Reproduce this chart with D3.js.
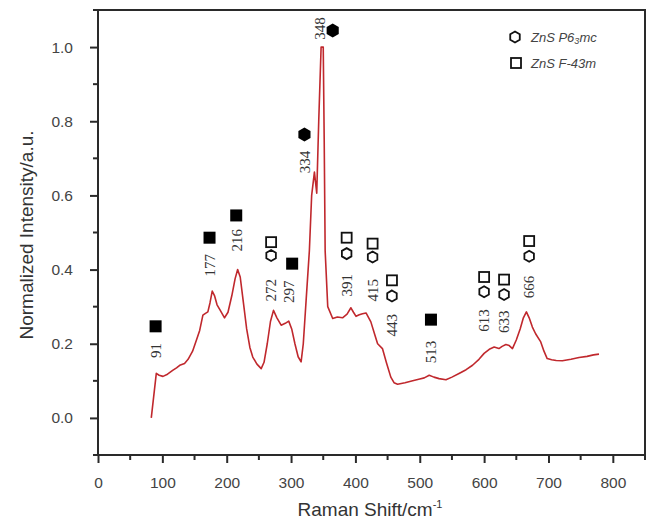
<!DOCTYPE html>
<html>
<head>
<meta charset="utf-8">
<script src="https://cdn.jsdelivr.net/npm/d3@7/dist/d3.min.js"></script>
<style>
  body { margin: 0; background: #fff; }
  svg { display: block; }
</style>
</head>
<body>
<svg width="649" height="523"></svg>
<script>
// spectrum
var ramanShift = [82.8, 90.6, 95, 101, 108, 116, 122, 127, 134.5, 140, 147, 153, 158, 163, 167, 170.7, 174, 177.5, 181, 185,
  190, 196.6, 202, 208, 213, 217, 221, 226, 231, 236, 240.5, 247, 253.6, 258, 263, 268, 272.7, 278, 284.6, 291,
  296.4, 301, 306, 311, 315.6, 319, 323.4, 328.5, 332, 336.3, 339.9, 343, 346.7, 350, 351.5, 353, 357, 364.7, 372, 380,
  387, 393, 397, 401, 406, 411, 416.5, 424, 430, 434.5, 442, 448, 455, 460, 465.5, 477, 489, 500, 507, 514.7,
  522, 530, 540.7, 550, 561, 572, 582, 592, 600, 608, 615.6, 623, 628, 633.8, 639, 644, 650, 656, 661, 665.7,
  670, 675, 680, 688, 693, 698, 705, 712, 721.6, 735, 747.5, 760, 770, 778.5];
var intensity = [0.00, 0.12, 0.115, 0.112, 0.118, 0.128, 0.135, 0.142, 0.147, 0.158, 0.18, 0.21, 0.236, 0.277, 0.282, 0.286, 0.31, 0.342, 0.33, 0.305,
  0.29, 0.27, 0.285, 0.33, 0.375, 0.40, 0.38, 0.31, 0.24, 0.19, 0.164, 0.145, 0.133, 0.15, 0.2, 0.26, 0.29, 0.27, 0.25, 0.255,
  0.261, 0.24, 0.2, 0.165, 0.151, 0.2, 0.317, 0.452, 0.6, 0.663, 0.606, 0.8, 1.0, 1.0, 0.75, 0.45, 0.30, 0.268, 0.272, 0.27,
  0.28, 0.297, 0.285, 0.274, 0.278, 0.281, 0.283, 0.259, 0.225, 0.20, 0.187, 0.15, 0.11, 0.095, 0.091, 0.095, 0.10, 0.105, 0.108, 0.115,
  0.11, 0.106, 0.103, 0.11, 0.12, 0.13, 0.142, 0.158, 0.174, 0.185, 0.191, 0.187, 0.193, 0.198, 0.195, 0.187, 0.21, 0.24, 0.27, 0.286,
  0.27, 0.245, 0.227, 0.205, 0.18, 0.16, 0.157, 0.155, 0.154, 0.158, 0.163, 0.166, 0.17, 0.172];

// filled squares (unassigned bands)
var sqLabels = ["91", "177", "216", "297", "513"];
var sqX      = [89.5, 173.3, 214.8, 301.7, 517.4];
var sqY      = [0.247, 0.486, 0.546, 0.416, 0.265];
var sqLabX   = [89.5, 173.3, 216.5, 297.5, 518];
var sqLabY   = [0.182, 0.412, 0.479, 0.34, 0.178];

// filled hexagons
var hexLabels = ["334", "348"];
var hexX      = [320.8, 364.7];
var hexY      = [0.764, 1.045];
var hexLabX   = [322.3, 345.6];
var hexLabY   = [0.69, 1.05];

// open hexagon + open square pairs
var pairLabels = ["272", "391", "415", "443", "613", "633", "666"];
var pairX      = [269, 386.4, 426.7, 456.8, 600, 631, 670];
var pairSqY    = [0.474, 0.486, 0.47, 0.371, 0.38, 0.373, 0.477];
var pairHexY   = [0.438, 0.443, 0.434, 0.329, 0.34, 0.333, 0.436];
var pairLabY   = [0.344, 0.358, 0.344, 0.25, 0.263, 0.259, 0.353];

var xTicks = [0, 100, 200, 300, 400, 500, 600, 700, 800];
var xMinor = [50, 150, 250, 350, 450, 550, 650, 750, 850];
var yTicks = [0.0, 0.2, 0.4, 0.6, 0.8, 1.0];
var yMinor = [-0.1, 0.1, 0.3, 0.5, 0.7, 0.9, 1.1];

var svg = d3.select("svg"),
    padL = 98, padR = 645, padT = 10, padB = 455;

var x = d3.scaleLinear().domain([0, 850]).range([padL, padR]);
var y = d3.scaleLinear().domain([-0.1, 1.1]).range([padB, padT]);

var axisColor = "#2a2a2a";

// frame
svg.append("rect")
  .attr("x", padL).attr("y", padT)
  .attr("width", padR - padL).attr("height", padB - padT)
  .style("fill", "none").style("stroke", axisColor).style("stroke-width", "2px");

// minor ticks
svg.selectAll(".xminor").data(xMinor).enter().append("line")
  .attr("class", "xminor")
  .attr("x1", function(d) { return x(d); }).attr("x2", function(d) { return x(d); })
  .attr("y1", padB).attr("y2", padB + 5)
  .style("stroke", axisColor).style("stroke-width", "2px");
svg.selectAll(".yminor").data(yMinor).enter().append("line")
  .attr("class", "yminor")
  .attr("y1", function(d) { return y(d); }).attr("y2", function(d) { return y(d); })
  .attr("x1", padL - 5).attr("x2", padL)
  .style("stroke", axisColor).style("stroke-width", "2px");

function styleAxis(g) {
  g.select(".domain").remove();
  g.selectAll(".tick line").style("stroke", axisColor).style("stroke-width", "2px");
  g.selectAll(".tick text").style("fill", "#444")
    .style("font-family", "Liberation Sans, Arial, sans-serif").style("font-size", "15.5px");
}

// major ticks + labels
svg.append("g").attr("transform", "translate(0," + padB + ")")
  .call(d3.axisBottom(x).tickValues(xTicks).tickSize(8).tickPadding(14).tickFormat(d3.format("d")))
  .call(styleAxis);
svg.append("g").attr("transform", "translate(" + padL + ",0)")
  .call(d3.axisLeft(y).tickValues(yTicks).tickSize(8).tickPadding(17).tickFormat(d3.format(".1f")))
  .call(styleAxis);

// axis titles
var xt = svg.append("text")
  .attr("x", 370).attr("y", 516)
  .attr("text-anchor", "middle")
  .attr("font-family", "Liberation Sans, Arial, sans-serif")
  .attr("font-size", 19).attr("fill", "#333")
  .text("Raman Shift/cm");
xt.append("tspan").attr("dy", -8).attr("font-size", 11).text("-1");

svg.append("text")
  .attr("transform", "translate(33,235) rotate(-90)")
  .attr("text-anchor", "middle")
  .attr("font-family", "Liberation Sans, Arial, sans-serif")
  .attr("font-size", 19).attr("fill", "#333")
  .text("Normalized Intensity/a.u.");

// spectrum
var pts = ramanShift.map(function(d, i) { return [d, intensity[i]]; });
var line = d3.line().x(function(d) { return x(d[0]); }).y(function(d) { return y(d[1]); });
svg.append("path")
  .datum(pts)
  .attr("d", line)
  .attr("fill", "none")
  .attr("stroke", "#c0282d")
  .attr("stroke-width", 1.6)
  .attr("stroke-linejoin", "round");

function hexPath(r) {
  var p = [];
  for (var k = 0; k < 6; k++) {
    var a = Math.PI / 3 * k - Math.PI / 2;
    p.push([r * Math.cos(a), r * Math.sin(a)]);
  }
  return "M" + p.join("L") + "Z";
}

function label(txt, lx, ly) {
  svg.append("text")
    .attr("transform", "translate(" + (x(lx) + 5) + "," + y(ly) + ") rotate(-90)")
    .attr("text-anchor", "middle")
    .attr("font-family", "Liberation Serif, Times New Roman, serif")
    .attr("font-size", 15).attr("fill", "#333")
    .text(txt);
}

// filled squares
sqX.forEach(function(d, i) {
  svg.append("rect")
    .attr("x", x(d) - 6).attr("y", y(sqY[i]) - 6)
    .attr("width", 12).attr("height", 12)
    .attr("fill", "#000");
  label(sqLabels[i], sqLabX[i], sqLabY[i]);
});

// filled hexagons
hexX.forEach(function(d, i) {
  svg.append("path")
    .attr("transform", "translate(" + x(d) + "," + y(hexY[i]) + ")")
    .attr("d", hexPath(7))
    .attr("fill", "#000");
  label(hexLabels[i], hexLabX[i], hexLabY[i]);
});

// open pairs
pairX.forEach(function(d, i) {
  svg.append("rect")
    .attr("x", x(d) - 5).attr("y", y(pairSqY[i]) - 5)
    .attr("width", 10).attr("height", 10)
    .attr("fill", "none").attr("stroke", "#111").attr("stroke-width", 1.8);
  svg.append("path")
    .attr("transform", "translate(" + x(d) + "," + y(pairHexY[i]) + ")")
    .attr("d", hexPath(5.5))
    .attr("fill", "none").attr("stroke", "#111").attr("stroke-width", 1.8);
  label(pairLabels[i], d, pairLabY[i]);
});

// legend
var lg = svg.append("g").attr("font-family", "Liberation Sans, Arial, sans-serif")
  .attr("font-size", 13).attr("font-style", "italic").attr("fill", "#444");
lg.append("path").attr("transform", "translate(515,37)").attr("d", hexPath(5.5))
  .attr("fill", "none").attr("stroke", "#111").attr("stroke-width", 1.8);
var t1 = lg.append("text").attr("x", 531).attr("y", 42).text("ZnS P6");
t1.append("tspan").attr("font-size", 9).attr("dy", 2).text("3");
t1.append("tspan").attr("dy", -2).text("mc");
lg.append("rect").attr("x", 511).attr("y", 58).attr("width", 10).attr("height", 10)
  .attr("fill", "none").attr("stroke", "#111").attr("stroke-width", 1.8);
lg.append("text").attr("x", 531).attr("y", 68).text("ZnS F-43m");
</script>
</body>
</html>
